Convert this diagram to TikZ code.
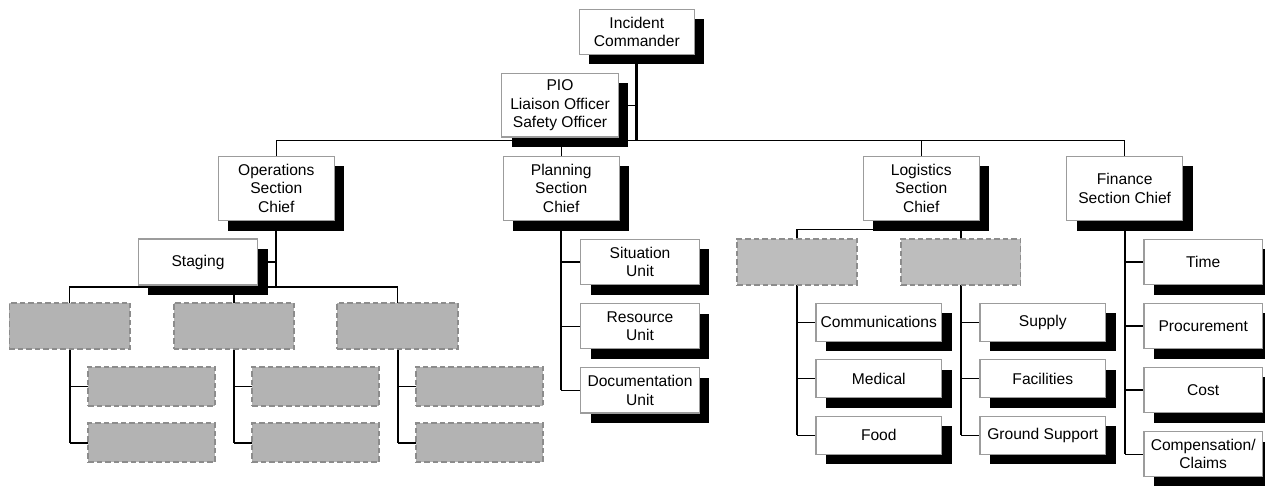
\documentclass[tikz,border=0pt]{standalone}
\usepackage{fontspec}
\setmainfont{Liberation Sans}
\usetikzlibrary{shadows,backgrounds}

\definecolor{boxedge}{HTML}{9C9C9C}
\definecolor{slotfill}{HTML}{B3B3B3}
\definecolor{slotfilllt}{HTML}{BDBDBD}
\definecolor{slotedge}{HTML}{8C8C8C}

\tikzset{
  post/.style={draw=boxedge, line width=1.1pt, fill=white, inner sep=0pt, outer sep=0pt,
    align=center, font=\fontsize{15.6}{18.3}\selectfont,
    drop shadow={shadow xshift=10pt, shadow yshift=-10pt, fill=black, opacity=1}},
  slot/.style={draw=slotedge, line width=1.7pt, dash pattern=on 5.5pt off 3pt,
    fill=slotfill, inner sep=0pt, outer sep=0pt},
  chief/.style={post, minimum width=116pt, minimum height=64.7pt},
  unit/.style={post, minimum width=118.5pt, minimum height=45.4pt},
  lunit/.style={post, minimum width=125.7pt, minimum height=38pt},
  slotA/.style={slot, minimum width=120.5pt, minimum height=46.6pt},
  slotB/.style={slot, minimum width=127pt, minimum height=39pt},
  slotC/.style={slot, fill=slotfilllt, minimum width=119.6pt, minimum height=46.3pt},
  trunk/.style={line width=2pt},
  link/.style={line width=1.4pt},
}

\begin{document}
\begin{tikzpicture}[x=1pt, y=-1pt]
\useasboundingbox (0,0) rectangle (1265,485);

% command staff
\node[post, minimum width=115pt, minimum height=45pt] (ic) at (636.8,31.8) {Incident\\Commander};
\node[post, minimum width=116.6pt, minimum height=63.6pt] (pio) at (560,105.2) {PIO\\Liaison Officer\\Safety Officer};

% section chiefs
\node[chief] (ops)  at (276.3,188.4)  {Operations\\Section\\Chief};
\node[chief] (plan) at (561.2,188.4)  {Planning\\Section\\Chief};
\node[chief] (log)  at (921.2,188.4)  {Logistics\\Section\\Chief};
\node[chief] (fin)  at (1124.7,188.4) {Finance\\Section Chief};

% operations
\node[post, minimum width=119.4pt, minimum height=46pt] (stg) at (198,262) {Staging};
\node[slotA] (d1) at (69.7,326) {};
\node[slotA] (d2) at (234,326) {};
\node[slotA] (d3) at (397.5,326) {};
\node[slotB] (d1a) at (151.8,386.2) {};
\node[slotB] (d1b) at (151.8,442.8) {};
\node[slotB] (d2a) at (315.8,386.2) {};
\node[slotB] (d2b) at (315.8,442.8) {};
\node[slotB] (d3a) at (479.2,386.2) {};
\node[slotB] (d3b) at (479.2,442.8) {};

% planning
\node[unit] (pu1) at (640,262)   {Situation\\Unit};
\node[unit] (pu2) at (640,326.2) {Resource\\Unit};
\node[unit] (pu3) at (640,390.3) {Documentation\\Unit};

% logistics
\node[slotC] (ls1) at (797,261.9) {};
\node[slotC] (ls2) at (960.8,261.9) {};
\node[lunit] (lc1) at (878.8,322.3)  {Communications};
\node[lunit] (lc2) at (878.8,378.6)  {Medical};
\node[lunit] (lc3) at (878.8,435.2)  {Food};
\node[lunit] (lr1) at (1042.8,322.3) {Supply};
\node[lunit] (lr2) at (1042.8,378.6) {Facilities};
\node[lunit] (lr3) at (1042.8,435.2) {Ground Support};

% finance
\node[unit] (fu1) at (1203.2,261.8) {Time};
\node[unit] (fu2) at (1203.2,326)   {Procurement};
\node[unit] (fu3) at (1203.2,390.1) {Cost};
\node[unit] (fu4) at (1203.2,454.2) {Compensation/\\Claims};

\begin{scope}[on background layer]
  % command line and section bus
  \coordinate (bus) at (636.3,140.7);
  \draw[line width=2.6pt] (ic.south -| bus) -- (bus);
  \draw[link] (pio.east) -- (pio.east -| bus);
  \draw[link] (ops.north) |- (bus) -| (fin.north);
  \draw[link] (plan.north) -- (plan.north |- bus);
  \draw[link] (log.north) -- (log.north |- bus);

  % operations
  \coordinate (opsbus) at (276.3,287);
  \draw[trunk] (ops.south) -- (opsbus);
  \draw[link] (stg.east) -- (stg.east -| opsbus);
  \draw[link] (d1.north) |- (opsbus) -| (d3.north);
  \draw[link] (d2.north) -- (d2.north |- opsbus);
  \foreach \g in {d1,d2,d3}{
    \draw[trunk] (\g.south) -- (\g.south |- \g b.west);
    \draw[link] (\g a.west) -- (\g a.west -| \g.south);
    \draw[link] (\g b.west) -- (\g b.west -| \g.south);
  }

  % planning
  \draw[trunk] (plan.south) -- (plan.south |- pu3.west);
  \foreach \u in {pu1,pu2,pu3}
    \draw[link] (\u.west) -- (\u.west -| plan.south);

  % logistics
  \coordinate (logbus) at (921.2,229.3);
  \draw[link] (log.south) -- (logbus);
  \draw[link] (ls1.north) |- (logbus) -| (ls2.north);
  \draw[trunk] (ls1.south) -- (ls1.south |- lc3.west);
  \draw[trunk] (ls2.south) -- (ls2.south |- lr3.west);
  \foreach \u in {lc1,lc2,lc3}
    \draw[link] (\u.west) -- (\u.west -| ls1.south);
  \foreach \u in {lr1,lr2,lr3}
    \draw[link] (\u.west) -- (\u.west -| ls2.south);

  % finance
  \draw[trunk] (fin.south) -- (fin.south |- fu4.west);
  \foreach \u in {fu1,fu2,fu3,fu4}
    \draw[link] (\u.west) -- (\u.west -| fin.south);
\end{scope}
\end{tikzpicture}
\end{document}
